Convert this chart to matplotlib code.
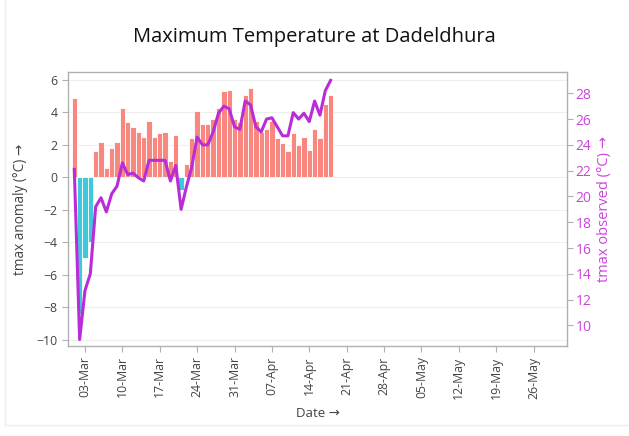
import numpy as np
import pandas as pd
import matplotlib
matplotlib.use("Agg")
import matplotlib.pyplot as plt
import matplotlib.dates as mdates
from matplotlib.lines import Line2D

plt.rcParams['font.family'] = ['Open Sans', 'DejaVu Sans']

# daily data, 01-Mar to 18-Apr
dates = pd.date_range("2024-03-01", periods=49, freq="D")
anomaly = [4.9, -8.4, -5.0, -4.0, 1.6, 2.2, 0.6, 1.8, 2.2, 4.3,
           3.4, 3.1, 2.8, 2.5, 3.5, 2.5, 2.7, 2.8, 1.0, 2.6,
           -0.8, 0.8, 2.4, 4.1, 3.3, 3.3, 3.6, 4.3, 5.3, 5.4,
           3.6, 3.4, 5.1, 5.5, 3.5, 2.8, 3.0, 3.5, 2.4, 2.1,
           1.6, 2.7, 2.0, 2.5, 1.7, 3.0, 2.4, 4.5, 5.1]
tmax = [22.1, 8.9, 12.7, 14.0, 19.2, 19.9, 18.8, 20.2, 20.8, 22.6,
        21.7, 21.8, 21.45, 21.2, 22.8, 22.8, 22.8, 22.8, 21.2, 22.4,
        19.0, 20.75, 22.3, 24.6, 24.0, 24.0, 25.0, 26.45, 27.0, 26.8,
        25.4, 25.2, 27.4, 27.1, 25.4, 25.0, 26.0, 26.1, 25.4, 24.7,
        24.7, 26.5, 26.0, 26.45, 25.8, 27.4, 26.3, 28.2, 29.0]

pos_color = '#f8877f'
neg_color = '#3ec8dc'
line_color = '#b92cd8'
right_color = '#cc44dd'
frame_color = '#b0b0b0'
text_color = '#444444'

fig = plt.figure(figsize=(6.29, 4.36), dpi=100)
ax = fig.add_axes([68/629, 1-346/436, (567-68)/629, (346-72)/436])

colors = [pos_color if v >= 0 else neg_color for v in anomaly]
ax.bar(dates, anomaly, width=1.0, color=colors, edgecolor='white', linewidth=0.6, zorder=2)

ax.set_ylim(-10.4, 6.49)
ax.set_yticks(range(-10, 7, 2))
ax.grid(axis='y', color='#eeeeee', linewidth=0.8, zorder=0)
ax.set_axisbelow(True)

x0 = pd.Timestamp("2024-03-03") - pd.Timedelta(days=3.18)
x1 = pd.Timestamp("2024-03-03") + pd.Timedelta(days=90.26)
ax.set_xlim(x0, x1)
ax.xaxis.set_major_locator(mdates.DayLocator(bymonthday=None, interval=7))
ax.set_xticks(pd.date_range("2024-03-03", "2024-05-26", freq="7D"))
ax.xaxis.set_major_formatter(mdates.DateFormatter("%d-%b"))
for lab in ax.get_xticklabels():
    lab.set_rotation(90)

ax.tick_params(axis='both', colors=frame_color, labelcolor=text_color,
               labelsize=8.8, length=4, width=0.8, direction='out')
for s in ax.spines.values():
    s.set_color(frame_color)
    s.set_linewidth(1.0)

ax.set_ylabel("tmax anomaly (°C) →", fontsize=9.8, color=text_color, labelpad=6)
ax.set_xlabel("Date →", fontsize=9.5, color=text_color, labelpad=6)

ax2 = ax.twinx()
ax2.plot(dates, tmax, color=line_color, linewidth=2.2, solid_joinstyle='round', zorder=3)
ax2.set_ylim(8.4, 29.65)
ax2.set_yticks(range(10, 29, 2))
ax2.tick_params(axis='y', colors=frame_color, labelcolor=right_color,
                labelsize=10, length=4, width=0.8, pad=2)
for s in ax2.spines.values():
    s.set_visible(False)
ax2.set_ylabel("tmax observed (°C) →", fontsize=10.5, color=right_color, labelpad=4)

fig.text(0.5, 1-37/436, "Maximum Temperature at Dadeldhura", ha='center', va='center',
         fontsize=14.5, color='#111111')

# faint card border
fig.add_artist(Line2D([5/629, 5/629], [11/436, 1.0], color='#eeeeee', linewidth=1.0))
fig.add_artist(Line2D([5/629, 1.0], [11/436, 11/436], color='#eeeeee', linewidth=1.0))

fig.savefig("out.png", dpi=100)
